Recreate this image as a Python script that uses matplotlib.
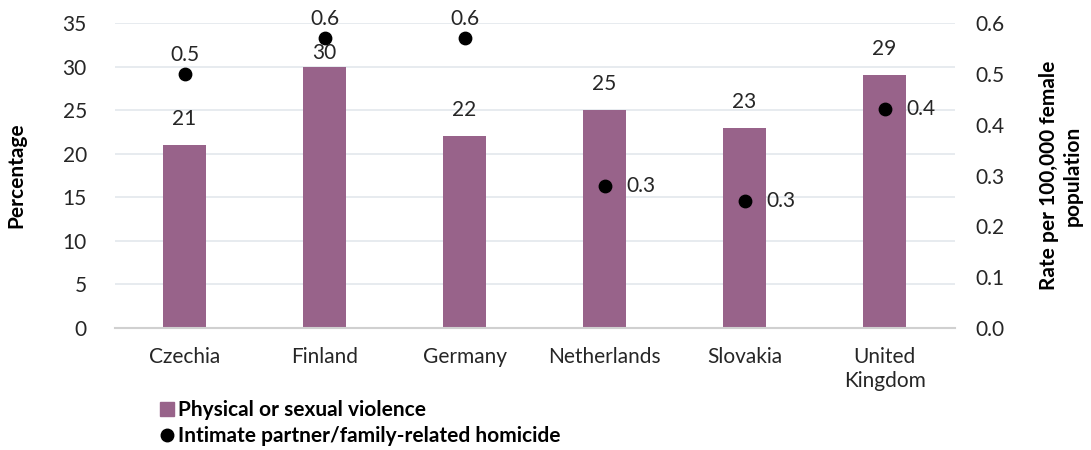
import matplotlib.pyplot as plt
import numpy as np
from matplotlib.lines import Line2D

plt.rcParams['font.family'] = ['Lato', 'DejaVu Sans']

countries = ['Czechia', 'Finland', 'Germany', 'Netherlands', 'Slovakia', 'United\nKingdom']
violence_pct = [21, 30, 22, 25, 23, 29]
homicide_rate = [0.50, 0.57, 0.57, 0.28, 0.25, 0.43]
homicide_labels = ['0.5', '0.6', '0.6', '0.3', '0.3', '0.4']

bar_color = '#98638a'
grid_color = '#e3e8ec'
fs = 15

fig = plt.figure(figsize=(10.91, 4.5), dpi=100)
ax = fig.add_axes([0.105, 0.271, 0.77, 0.678])
ax2 = ax.twinx()

x = np.arange(len(countries))
ax.bar(x, violence_pct, width=0.31, color=bar_color, zorder=2)
ax.set_xlim(-0.5, len(countries) - 0.5)
ax.set_ylim(0, 35)
ax.set_yticks(range(0, 36, 5))
ax.grid(axis='y', color=grid_color, linewidth=1.2, zorder=0)
ax.set_axisbelow(True)
ax.set_xticks(x)
ax.set_xticklabels(countries, fontsize=fs, color='#262626', linespacing=1.2)
ax.tick_params(axis='y', length=0, labelsize=fs, colors='#262626', pad=20)
ax.tick_params(axis='x', length=0, labelsize=fs, colors='#262626', pad=14)
for s in ['top', 'right', 'left']:
    ax.spines[s].set_visible(False)
    ax2.spines[s].set_visible(False)
ax.spines['bottom'].set_color('#d0d0d0')
ax.spines['bottom'].set_linewidth(1.5)
ax2.spines['bottom'].set_visible(False)
ax.set_ylabel('Percentage', fontsize=fs, fontweight='bold', labelpad=26)

for i, v in enumerate(violence_pct):
    off = 14 if i == 1 else 26
    ax.annotate(str(v), (x[i], v), xytext=(0, off), textcoords='offset pixels',
                ha='center', va='center', fontsize=fs, color='#262626')

ax2.scatter(x, homicide_rate, s=80, color='black', zorder=3)
ax2.set_ylim(0, 0.6)
ax2.set_yticks(np.arange(0, 0.61, 0.1))
ax2.set_yticklabels([f'{t:.1f}' for t in np.arange(0, 0.61, 0.1)])
ax2.tick_params(axis='y', length=0, labelsize=fs, colors='#262626', pad=15)
ax2.set_ylabel('Rate per 100,000 female\npopulation', fontsize=fs,
               fontweight='bold', labelpad=25)

for i, (v, lab) in enumerate(zip(homicide_rate, homicide_labels)):
    if i < 3:
        ax2.annotate(lab, (x[i], v), xytext=(0, 19), textcoords='offset pixels',
                     ha='center', va='center', fontsize=fs, color='#262626')
    else:
        ax2.annotate(lab, (x[i], v), xytext=(22, 0), textcoords='offset pixels',
                     ha='left', va='center', fontsize=fs, color='#262626')

handles = [
    Line2D([], [], marker='s', linestyle='none', color=bar_color, markersize=10),
    Line2D([], [], marker='o', linestyle='none', color='black', markersize=9),
]
leg = fig.legend(handles, ['Physical or sexual violence', 'Intimate partner/family-related homicide'],
                 loc='upper left', bbox_to_anchor=(0.140, 0.13), frameon=False,
                 handlelength=0.6, handletextpad=0.2, labelspacing=0.3, borderaxespad=0,
                 prop={'weight': 'bold', 'size': fs})

fig.savefig('out.png', dpi=100)
